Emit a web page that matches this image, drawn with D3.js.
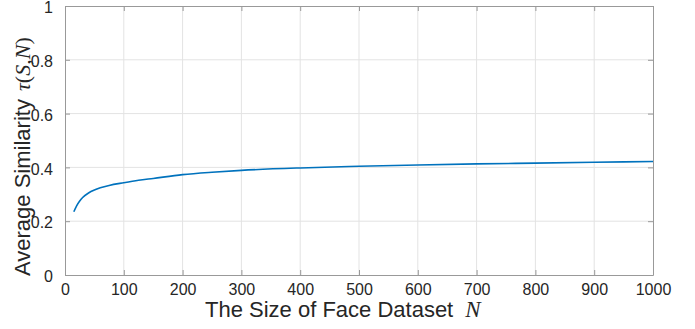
<!DOCTYPE html>
<html>
<head>
<meta charset="utf-8">
<script src="https://cdn.jsdelivr.net/npm/d3@7"></script>
<style>
  body { margin: 0; background: #fff; }
  text { font-family: "Liberation Sans", Arial, sans-serif; fill: #262626; }
  .math { font-family: "Liberation Serif", "Times New Roman", serif; }
</style>
</head>
<body>
<div id="chart"></div>
<script>
// values
const datasetSize = [15, 20, 25, 30, 40, 50, 60, 75, 100, 125, 150, 200, 250, 300, 400, 500, 600, 700, 800, 900, 1000];
const avgSimilarity = [0.235, 0.258, 0.275, 0.288, 0.305, 0.316, 0.324, 0.333, 0.343, 0.352, 0.359, 0.373, 0.382, 0.389, 0.398, 0.404, 0.409, 0.413, 0.416, 0.419, 0.422];
const xTicks = [0, 100, 200, 300, 400, 500, 600, 700, 800, 900, 1000];
const yTicks = [0, 0.2, 0.4, 0.6, 0.8, 1];

const margin = { top: 6, right: 42, bottom: 54, left: 65 };
const width = 695 - margin.left - margin.right;
const height = 329 - margin.top - margin.bottom;

const svg = d3.select('#chart')
  .append('svg')
  .attr('width', 695)
  .attr('height', 329);

const g = svg.append('g')
  .attr('transform', `translate(${margin.left},${margin.top})`);

const x = d3.scaleLinear().domain([0, 1000]).range([0, width]);
const y = d3.scaleLinear().domain([0, 1]).range([height, 0]);

// grid
g.append('g')
  .selectAll('line.gx')
  .data(xTicks.slice(1, -1))
  .enter()
  .append('line')
  .attr('x1', d => x(d)).attr('x2', d => x(d))
  .attr('y1', 0).attr('y2', height)
  .style('stroke', '#e3e3e3');

g.append('g')
  .selectAll('line.gy')
  .data(yTicks.slice(1, -1))
  .enter()
  .append('line')
  .attr('y1', d => y(d)).attr('y2', d => y(d))
  .attr('x1', 0).attr('x2', width)
  .style('stroke', '#e3e3e3');

// axes (ticks inside, box on)
const styleAxis = sel => {
  sel.select('.domain').style('stroke', '#999');
  sel.selectAll('.tick line').style('stroke', '#999');
  sel.selectAll('.tick text')
    .style('font-family', '"Liberation Sans", Arial, sans-serif')
    .style('font-size', '16px')
    .style('fill', '#262626');
};

g.append('g')
  .attr('transform', `translate(0,${height})`)
  .call(d3.axisBottom(x).tickValues(xTicks).tickSize(-5).tickSizeOuter(0).tickPadding(9).tickFormat(d3.format('d')))
  .call(styleAxis);

g.append('g')
  .call(d3.axisLeft(y).tickValues(yTicks).tickSize(-5).tickSizeOuter(0).tickPadding(12).tickFormat(d => d === 0 || d === 1 ? d : d3.format('.1f')(d)))
  .call(styleAxis)
  .selectAll('.tick text').attr('dy', '0.42em');

g.append('g')
  .call(d3.axisTop(x).tickValues(xTicks).tickSize(-5).tickSizeOuter(0).tickFormat(''))
  .call(styleAxis);

g.append('g')
  .attr('transform', `translate(${width},0)`)
  .call(d3.axisRight(y).tickValues(yTicks).tickSize(-5).tickSizeOuter(0).tickFormat(''))
  .call(styleAxis);

// curve
const line = d3.line()
  .x((d, i) => x(datasetSize[i]))
  .y(d => y(d))
  .curve(d3.curveMonotoneX);

g.append('path')
  .datum(avgSimilarity)
  .attr('d', line)
  .style('fill', 'none')
  .style('stroke', '#0072BD')
  .style('stroke-width', 1.6);

// x label
const xl = svg.append('text')
  .attr('x', 205)
  .attr('y', 317)
  .style('font-size', '22px');
xl.append('tspan').text('The Size of Face Dataset ');
xl.append('tspan').attr('class', 'math').attr('dx', 6).style('font-style', 'italic').style('font-size', '23px').text('N');

// y label
const yl = svg.append('text')
  .attr('transform', 'translate(30,276) rotate(-90)')
  .style('font-size', '22px');
yl.append('tspan').text('Average Similarity ');
yl.append('tspan').attr('class', 'math').attr('dx', 2).style('font-style', 'italic').text('τ');
yl.append('tspan').attr('class', 'math').text('(');
yl.append('tspan').attr('class', 'math').style('font-style', 'italic').text('S');
yl.append('tspan').attr('class', 'math').text(',');
yl.append('tspan').attr('class', 'math').style('font-style', 'italic').text('N');
yl.append('tspan').attr('class', 'math').text(')');
</script>
</body>
</html>
